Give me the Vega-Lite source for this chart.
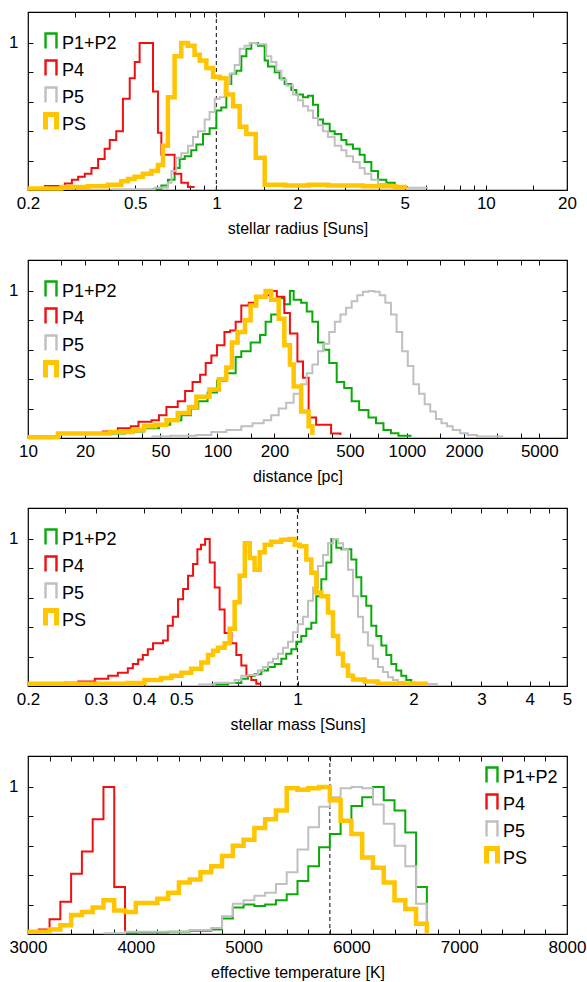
{
"$schema": "https://vega.github.io/schema/vega-lite/v6.json",
"padding": {"left": 7, "top": 10, "right": 0, "bottom": 0},
"spacing": 21,
"config": {
  "view": {"stroke": "#000", "strokeWidth": 1.2},
  "axis": {"grid": false, "domain": false, "tickSize": -5, "tickColor": "#111", "tickWidth": 1, "labelFont": "Liberation Sans", "labelFontSize": 17, "labelColor": "#000", "labelPadding": 10, "labelFlush": false, "labelOverlap": false, "titleFont": "Liberation Sans", "titleFontSize": 16, "titleFontWeight": "normal", "titleColor": "#000", "titlePadding": 9},
  "legend": {"orient": "none", "symbolType": "M-0.73,1L-0.73,-1L0.73,-1L0.73,1", "symbolSize": 225, "labelFont": "Liberation Sans", "labelFontSize": 18, "labelColor": "#000", "rowPadding": -11.5, "gridAlign": "all", "padding": 0, "labelOffset": 2, "symbolFillColor": "transparent"}
},
"resolve": {"scale": {"color": "independent", "x": "independent", "y": "independent"}, "legend": {"color": "independent"}},
"datasets": {
"r": [
{"s":"P1+P2","x":0.574,"y":0.005},{"s":"P1+P2","x":0.625,"y":0.03},{"s":"P1+P2","x":0.661,"y":0.07},{"s":"P1+P2","x":0.7,"y":0.15},{"s":"P1+P2","x":0.731,"y":0.21},{"s":"P1+P2","x":0.763,"y":0.23},{"s":"P1+P2","x":0.807,"y":0.27},{"s":"P1+P2","x":0.843,"y":0.31},{"s":"P1+P2","x":0.892,"y":0.38},{"s":"P1+P2","x":0.944,"y":0.42},{"s":"P1+P2","x":1.0,"y":0.54},{"s":"P1+P2","x":1.043,"y":0.56},{"s":"P1+P2","x":1.089,"y":0.72},{"s":"P1+P2","x":1.136,"y":0.79},{"s":"P1+P2","x":1.186,"y":0.81},{"s":"P1+P2","x":1.238,"y":0.91},{"s":"P1+P2","x":1.292,"y":0.96},{"s":"P1+P2","x":1.348,"y":1.0},{"s":"P1+P2","x":1.427,"y":0.98},{"s":"P1+P2","x":1.511,"y":0.88},{"s":"P1+P2","x":1.554,"y":0.84},{"s":"P1+P2","x":1.646,"y":0.8},{"s":"P1+P2","x":1.717,"y":0.76},{"s":"P1+P2","x":1.792,"y":0.72},{"s":"P1+P2","x":1.897,"y":0.68},{"s":"P1+P2","x":1.98,"y":0.65},{"s":"P1+P2","x":2.096,"y":0.63},{"s":"P1+P2","x":2.188,"y":0.64},{"s":"P1+P2","x":2.283,"y":0.58},{"s":"P1+P2","x":2.383,"y":0.48},{"s":"P1+P2","x":2.487,"y":0.45},{"s":"P1+P2","x":2.633,"y":0.4},{"s":"P1+P2","x":2.748,"y":0.38},{"s":"P1+P2","x":2.909,"y":0.34},{"s":"P1+P2","x":3.036,"y":0.31},{"s":"P1+P2","x":3.213,"y":0.28},{"s":"P1+P2","x":3.402,"y":0.24},{"s":"P1+P2","x":3.55,"y":0.19},{"s":"P1+P2","x":3.758,"y":0.13},{"s":"P1+P2","x":3.979,"y":0.07},{"s":"P1+P2","x":4.272,"y":0.05},{"s":"P1+P2","x":4.588,"y":0.02},{"s":"P1+P2","x":5.14,"y":0.02},
{"s":"P4","x":0.229,"y":0.027},{"s":"P4","x":0.274,"y":0.045},{"s":"P4","x":0.291,"y":0.07},{"s":"P4","x":0.307,"y":0.09},{"s":"P4","x":0.325,"y":0.11},{"s":"P4","x":0.344,"y":0.15},{"s":"P4","x":0.364,"y":0.21},{"s":"P4","x":0.385,"y":0.28},{"s":"P4","x":0.402,"y":0.34},{"s":"P4","x":0.425,"y":0.4},{"s":"P4","x":0.45,"y":0.62},{"s":"P4","x":0.477,"y":0.76},{"s":"P4","x":0.498,"y":0.87},{"s":"P4","x":0.519,"y":1.0},{"s":"P4","x":0.582,"y":0.67},{"s":"P4","x":0.607,"y":0.39},{"s":"P4","x":0.625,"y":0.24},{"s":"P4","x":0.7,"y":0.11},{"s":"P4","x":0.741,"y":0.05},{"s":"P4","x":0.784,"y":0.02},{"s":"P4","x":0.83,"y":0.02},
{"s":"P5","x":0.408,"y":0.005},{"s":"P5","x":0.59,"y":0.015},{"s":"P5","x":0.661,"y":0.05},{"s":"P5","x":0.681,"y":0.13},{"s":"P5","x":0.71,"y":0.22},{"s":"P5","x":0.741,"y":0.25},{"s":"P5","x":0.785,"y":0.3},{"s":"P5","x":0.819,"y":0.36},{"s":"P5","x":0.855,"y":0.4},{"s":"P5","x":0.905,"y":0.48},{"s":"P5","x":0.944,"y":0.53},{"s":"P5","x":0.986,"y":0.62},{"s":"P5","x":1.029,"y":0.63},{"s":"P5","x":1.073,"y":0.72},{"s":"P5","x":1.12,"y":0.79},{"s":"P5","x":1.169,"y":0.85},{"s":"P5","x":1.22,"y":0.96},{"s":"P5","x":1.273,"y":0.98},{"s":"P5","x":1.329,"y":1.0},{"s":"P5","x":1.407,"y":0.99},{"s":"P5","x":1.468,"y":0.99},{"s":"P5","x":1.532,"y":0.91},{"s":"P5","x":1.599,"y":0.87},{"s":"P5","x":1.669,"y":0.81},{"s":"P5","x":1.742,"y":0.75},{"s":"P5","x":1.818,"y":0.71},{"s":"P5","x":1.925,"y":0.65},{"s":"P5","x":2.009,"y":0.61},{"s":"P5","x":2.096,"y":0.57},{"s":"P5","x":2.188,"y":0.54},{"s":"P5","x":2.283,"y":0.49},{"s":"P5","x":2.383,"y":0.44},{"s":"P5","x":2.487,"y":0.4},{"s":"P5","x":2.595,"y":0.36},{"s":"P5","x":2.748,"y":0.3},{"s":"P5","x":2.909,"y":0.27},{"s":"P5","x":3.036,"y":0.23},{"s":"P5","x":3.213,"y":0.19},{"s":"P5","x":3.402,"y":0.15},{"s":"P5","x":3.55,"y":0.11},{"s":"P5","x":3.758,"y":0.07},{"s":"P5","x":3.979,"y":0.04},{"s":"P5","x":4.272,"y":0.03},{"s":"P5","x":4.588,"y":0.015},{"s":"P5","x":6.1,"y":0.015},
{"s":"PS","x":0.2,"y":0.01},{"s":"PS","x":0.266,"y":0.02},{"s":"PS","x":0.334,"y":0.025},{"s":"PS","x":0.396,"y":0.035},{"s":"PS","x":0.444,"y":0.06},{"s":"PS","x":0.47,"y":0.075},{"s":"PS","x":0.497,"y":0.09},{"s":"PS","x":0.534,"y":0.11},{"s":"PS","x":0.574,"y":0.13},{"s":"PS","x":0.607,"y":0.17},{"s":"PS","x":0.634,"y":0.3},{"s":"PS","x":0.661,"y":0.63},{"s":"PS","x":0.7,"y":0.91},{"s":"PS","x":0.741,"y":1.0},{"s":"PS","x":0.784,"y":0.98},{"s":"PS","x":0.83,"y":0.92},{"s":"PS","x":0.867,"y":0.88},{"s":"PS","x":0.918,"y":0.83},{"s":"PS","x":0.972,"y":0.77},{"s":"PS","x":1.029,"y":0.76},{"s":"PS","x":1.089,"y":0.65},{"s":"PS","x":1.153,"y":0.57},{"s":"PS","x":1.22,"y":0.43},{"s":"PS","x":1.292,"y":0.38},{"s":"PS","x":1.4,"y":0.22},{"s":"PS","x":1.511,"y":0.035},{"s":"PS","x":1.8,"y":0.03},{"s":"PS","x":2.2,"y":0.035},{"s":"PS","x":2.6,"y":0.03},{"s":"PS","x":3.0,"y":0.03},{"s":"PS","x":3.5,"y":0.025},{"s":"PS","x":4.0,"y":0.025},{"s":"PS","x":4.6,"y":0.02},{"s":"PS","x":5.1,"y":0.02}
],
"d": [
{"s":"P1+P2","x":10,"y":0.005},{"s":"P1+P2","x":14.4,"y":0.03},{"s":"P1+P2","x":32.6,"y":0.045},{"s":"P1+P2","x":40.9,"y":0.066},{"s":"P1+P2","x":49.1,"y":0.09},{"s":"P1+P2","x":56.3,"y":0.12},{"s":"P1+P2","x":64.5,"y":0.155},{"s":"P1+P2","x":72.3,"y":0.2},{"s":"P1+P2","x":79.2,"y":0.25},{"s":"P1+P2","x":88.7,"y":0.31},{"s":"P1+P2","x":99.4,"y":0.39},{"s":"P1+P2","x":111.4,"y":0.44},{"s":"P1+P2","x":124.8,"y":0.55},{"s":"P1+P2","x":133.6,"y":0.59},{"s":"P1+P2","x":149.7,"y":0.65},{"s":"P1+P2","x":167.7,"y":0.7},{"s":"P1+P2","x":179.6,"y":0.79},{"s":"P1+P2","x":192.2,"y":0.84},{"s":"P1+P2","x":210.5,"y":0.95},{"s":"P1+P2","x":225.4,"y":0.91},{"s":"P1+P2","x":241.3,"y":1.0},{"s":"P1+P2","x":252.5,"y":0.94},{"s":"P1+P2","x":276.6,"y":0.92},{"s":"P1+P2","x":296.1,"y":0.86},{"s":"P1+P2","x":317,"y":0.79},{"s":"P1+P2","x":339.5,"y":0.65},{"s":"P1+P2","x":363.4,"y":0.6},{"s":"P1+P2","x":389,"y":0.51},{"s":"P1+P2","x":426.1,"y":0.38},{"s":"P1+P2","x":466.7,"y":0.34},{"s":"P1+P2","x":511,"y":0.25},{"s":"P1+P2","x":559.8,"y":0.19},{"s":"P1+P2","x":627,"y":0.14},{"s":"P1+P2","x":686.9,"y":0.1},{"s":"P1+P2","x":752.2,"y":0.055},{"s":"P1+P2","x":823.9,"y":0.033},{"s":"P1+P2","x":902.4,"y":0.015},{"s":"P1+P2","x":1058,"y":0.015},
{"s":"P4","x":10,"y":0.005},{"s":"P4","x":14.4,"y":0.033},{"s":"P4","x":24.8,"y":0.045},{"s":"P4","x":29.8,"y":0.066},{"s":"P4","x":34.9,"y":0.08},{"s":"P4","x":38.3,"y":0.11},{"s":"P4","x":44.9,"y":0.12},{"s":"P4","x":49.1,"y":0.155},{"s":"P4","x":53.8,"y":0.21},{"s":"P4","x":61.7,"y":0.25},{"s":"P4","x":67.5,"y":0.32},{"s":"P4","x":73.9,"y":0.38},{"s":"P4","x":81,"y":0.43},{"s":"P4","x":86.7,"y":0.51},{"s":"P4","x":92.9,"y":0.56},{"s":"P4","x":99.4,"y":0.63},{"s":"P4","x":108.9,"y":0.72},{"s":"P4","x":116.6,"y":0.73},{"s":"P4","x":124.8,"y":0.79},{"s":"P4","x":133.6,"y":0.9},{"s":"P4","x":146.3,"y":0.92},{"s":"P4","x":160.2,"y":0.96},{"s":"P4","x":175.4,"y":0.97},{"s":"P4","x":192.2,"y":1.0},{"s":"P4","x":205.8,"y":0.96},{"s":"P4","x":225.4,"y":0.85},{"s":"P4","x":241.3,"y":0.71},{"s":"P4","x":264.3,"y":0.52},{"s":"P4","x":282.9,"y":0.41},{"s":"P4","x":302.9,"y":0.14},{"s":"P4","x":331.7,"y":0.09},{"s":"P4","x":398,"y":0.03},{"s":"P4","x":445.9,"y":0.02},
{"s":"P5","x":44.9,"y":0.01},{"s":"P5","x":56.3,"y":0.015},{"s":"P5","x":77.4,"y":0.02},{"s":"P5","x":92.9,"y":0.04},{"s":"P5","x":111.4,"y":0.055},{"s":"P5","x":133.6,"y":0.08},{"s":"P5","x":153.1,"y":0.1},{"s":"P5","x":175.5,"y":0.12},{"s":"P5","x":192.2,"y":0.155},{"s":"P5","x":210.5,"y":0.2},{"s":"P5","x":230.6,"y":0.24},{"s":"P5","x":252.5,"y":0.3},{"s":"P5","x":276.6,"y":0.365},{"s":"P5","x":296.1,"y":0.44},{"s":"P5","x":317,"y":0.5},{"s":"P5","x":339.5,"y":0.59},{"s":"P5","x":363.4,"y":0.64},{"s":"P5","x":389,"y":0.72},{"s":"P5","x":416.5,"y":0.79},{"s":"P5","x":445.9,"y":0.84},{"s":"P5","x":477.4,"y":0.885},{"s":"P5","x":511,"y":0.93},{"s":"P5","x":547.1,"y":0.97},{"s":"P5","x":585.7,"y":0.995},{"s":"P5","x":627,"y":1.0},{"s":"P5","x":671.4,"y":0.995},{"s":"P5","x":718.7,"y":0.97},{"s":"P5","x":769.5,"y":0.92},{"s":"P5","x":823.9,"y":0.84},{"s":"P5","x":882,"y":0.72},{"s":"P5","x":944.3,"y":0.59},{"s":"P5","x":1011,"y":0.49},{"s":"P5","x":1082,"y":0.365},{"s":"P5","x":1159,"y":0.3},{"s":"P5","x":1241,"y":0.23},{"s":"P5","x":1328,"y":0.18},{"s":"P5","x":1422,"y":0.13},{"s":"P5","x":1522,"y":0.1},{"s":"P5","x":1630,"y":0.08},{"s":"P5","x":1745,"y":0.055},{"s":"P5","x":1911,"y":0.033},{"s":"P5","x":2094,"y":0.02},{"s":"P5","x":2345,"y":0.01},{"s":"P5","x":3225,"y":0.01},
{"s":"PS","x":10,"y":0.005},{"s":"PS","x":14.4,"y":0.03},{"s":"PS","x":20.7,"y":0.03},{"s":"PS","x":27.2,"y":0.04},{"s":"PS","x":35.7,"y":0.055},{"s":"PS","x":40.9,"y":0.08},{"s":"PS","x":46.9,"y":0.09},{"s":"PS","x":53.8,"y":0.12},{"s":"PS","x":61.7,"y":0.17},{"s":"PS","x":70.7,"y":0.21},{"s":"PS","x":77.4,"y":0.28},{"s":"PS","x":90.8,"y":0.33},{"s":"PS","x":101.7,"y":0.4},{"s":"PS","x":111.4,"y":0.48},{"s":"PS","x":119.2,"y":0.65},{"s":"PS","x":127.7,"y":0.72},{"s":"PS","x":139.8,"y":0.8},{"s":"PS","x":149.7,"y":0.9},{"s":"PS","x":160.2,"y":0.96},{"s":"PS","x":179.6,"y":1.0},{"s":"PS","x":192.2,"y":0.94},{"s":"PS","x":210.5,"y":0.81},{"s":"PS","x":225.4,"y":0.63},{"s":"PS","x":241.3,"y":0.5},{"s":"PS","x":252.5,"y":0.35},{"s":"PS","x":276.6,"y":0.18},{"s":"PS","x":302.9,"y":0.08},{"s":"PS","x":317,"y":0.02}
],
"m": [
{"s":"P1+P2","x":0.598,"y":0.01},{"s":"P1+P2","x":0.66,"y":0.02},{"s":"P1+P2","x":0.715,"y":0.05},{"s":"P1+P2","x":0.744,"y":0.07},{"s":"P1+P2","x":0.774,"y":0.08},{"s":"P1+P2","x":0.806,"y":0.105},{"s":"P1+P2","x":0.839,"y":0.13},{"s":"P1+P2","x":0.873,"y":0.15},{"s":"P1+P2","x":0.908,"y":0.185},{"s":"P1+P2","x":0.935,"y":0.22},{"s":"P1+P2","x":0.964,"y":0.25},{"s":"P1+P2","x":0.993,"y":0.3},{"s":"P1+P2","x":1.023,"y":0.34},{"s":"P1+P2","x":1.054,"y":0.39},{"s":"P1+P2","x":1.086,"y":0.43},{"s":"P1+P2","x":1.119,"y":0.61},{"s":"P1+P2","x":1.153,"y":0.725},{"s":"P1+P2","x":1.188,"y":0.84},{"s":"P1+P2","x":1.224,"y":1.0},{"s":"P1+P2","x":1.261,"y":0.94},{"s":"P1+P2","x":1.299,"y":0.93},{"s":"P1+P2","x":1.339,"y":0.93},{"s":"P1+P2","x":1.379,"y":0.86},{"s":"P1+P2","x":1.421,"y":0.74},{"s":"P1+P2","x":1.464,"y":0.61},{"s":"P1+P2","x":1.508,"y":0.545},{"s":"P1+P2","x":1.554,"y":0.41},{"s":"P1+P2","x":1.601,"y":0.34},{"s":"P1+P2","x":1.65,"y":0.275},{"s":"P1+P2","x":1.7,"y":0.21},{"s":"P1+P2","x":1.751,"y":0.15},{"s":"P1+P2","x":1.804,"y":0.105},{"s":"P1+P2","x":1.859,"y":0.07},{"s":"P1+P2","x":1.915,"y":0.04},{"s":"P1+P2","x":1.973,"y":0.02},{"s":"P1+P2","x":2.033,"y":0.02},
{"s":"P4","x":0.225,"y":0.013},{"s":"P4","x":0.249,"y":0.022},{"s":"P4","x":0.27,"y":0.03},{"s":"P4","x":0.298,"y":0.05},{"s":"P4","x":0.323,"y":0.07},{"s":"P4","x":0.342,"y":0.09},{"s":"P4","x":0.363,"y":0.12},{"s":"P4","x":0.374,"y":0.15},{"s":"P4","x":0.386,"y":0.18},{"s":"P4","x":0.397,"y":0.21},{"s":"P4","x":0.409,"y":0.25},{"s":"P4","x":0.422,"y":0.29},{"s":"P4","x":0.448,"y":0.31},{"s":"P4","x":0.461,"y":0.41},{"s":"P4","x":0.475,"y":0.47},{"s":"P4","x":0.49,"y":0.59},{"s":"P4","x":0.505,"y":0.66},{"s":"P4","x":0.52,"y":0.75},{"s":"P4","x":0.536,"y":0.83},{"s":"P4","x":0.55,"y":0.93},{"s":"P4","x":0.562,"y":0.96},{"s":"P4","x":0.576,"y":1.0},{"s":"P4","x":0.592,"y":0.84},{"s":"P4","x":0.61,"y":0.67},{"s":"P4","x":0.628,"y":0.52},{"s":"P4","x":0.647,"y":0.36},{"s":"P4","x":0.674,"y":0.29},{"s":"P4","x":0.694,"y":0.21},{"s":"P4","x":0.715,"y":0.14},{"s":"P4","x":0.737,"y":0.07},{"s":"P4","x":0.759,"y":0.04},{"s":"P4","x":0.782,"y":0.016},{"s":"P4","x":0.806,"y":0.016},
{"s":"P5","x":0.552,"y":0.01},{"s":"P5","x":0.61,"y":0.022},{"s":"P5","x":0.687,"y":0.04},{"s":"P5","x":0.715,"y":0.07},{"s":"P5","x":0.744,"y":0.075},{"s":"P5","x":0.79,"y":0.105},{"s":"P5","x":0.814,"y":0.13},{"s":"P5","x":0.839,"y":0.16},{"s":"P5","x":0.864,"y":0.185},{"s":"P5","x":0.89,"y":0.22},{"s":"P5","x":0.917,"y":0.26},{"s":"P5","x":0.945,"y":0.3},{"s":"P5","x":0.973,"y":0.365},{"s":"P5","x":1.003,"y":0.42},{"s":"P5","x":1.033,"y":0.47},{"s":"P5","x":1.065,"y":0.58},{"s":"P5","x":1.097,"y":0.67},{"s":"P5","x":1.13,"y":0.815},{"s":"P5","x":1.165,"y":0.89},{"s":"P5","x":1.2,"y":0.97},{"s":"P5","x":1.236,"y":1.0},{"s":"P5","x":1.274,"y":0.97},{"s":"P5","x":1.312,"y":0.93},{"s":"P5","x":1.352,"y":0.79},{"s":"P5","x":1.393,"y":0.61},{"s":"P5","x":1.435,"y":0.47},{"s":"P5","x":1.479,"y":0.365},{"s":"P5","x":1.523,"y":0.275},{"s":"P5","x":1.569,"y":0.185},{"s":"P5","x":1.617,"y":0.13},{"s":"P5","x":1.666,"y":0.095},{"s":"P5","x":1.717,"y":0.06},{"s":"P5","x":1.769,"y":0.04},{"s":"P5","x":1.822,"y":0.027},{"s":"P5","x":1.896,"y":0.013},{"s":"P5","x":2.31,"y":0.013},
{"s":"PS","x":0.2,"y":0.016},{"s":"PS","x":0.363,"y":0.02},{"s":"PS","x":0.401,"y":0.04},{"s":"PS","x":0.443,"y":0.054},{"s":"PS","x":0.471,"y":0.07},{"s":"PS","x":0.5,"y":0.09},{"s":"PS","x":0.53,"y":0.117},{"s":"PS","x":0.563,"y":0.16},{"s":"PS","x":0.586,"y":0.21},{"s":"PS","x":0.604,"y":0.24},{"s":"PS","x":0.622,"y":0.26},{"s":"PS","x":0.647,"y":0.29},{"s":"PS","x":0.667,"y":0.39},{"s":"PS","x":0.687,"y":0.57},{"s":"PS","x":0.708,"y":0.75},{"s":"PS","x":0.73,"y":0.97},{"s":"PS","x":0.752,"y":0.87},{"s":"PS","x":0.774,"y":0.79},{"s":"PS","x":0.798,"y":0.91},{"s":"PS","x":0.822,"y":0.96},{"s":"PS","x":0.855,"y":0.98},{"s":"PS","x":0.908,"y":0.995},{"s":"PS","x":0.954,"y":1.0},{"s":"PS","x":0.983,"y":0.96},{"s":"PS","x":1.013,"y":0.95},{"s":"PS","x":1.054,"y":0.86},{"s":"PS","x":1.086,"y":0.77},{"s":"PS","x":1.119,"y":0.635},{"s":"PS","x":1.153,"y":0.61},{"s":"PS","x":1.2,"y":0.5},{"s":"PS","x":1.236,"y":0.34},{"s":"PS","x":1.274,"y":0.22},{"s":"PS","x":1.312,"y":0.14},{"s":"PS","x":1.352,"y":0.07},{"s":"PS","x":1.393,"y":0.045},{"s":"PS","x":1.493,"y":0.03},{"s":"PS","x":1.617,"y":0.016},{"s":"PS","x":2.18,"y":0.016}
],
"t": [
{"s":"P1+P2","x":3900,"y":0.005},{"s":"P1+P2","x":4000,"y":0.01},{"s":"P1+P2","x":4300,"y":0.016},{"s":"P1+P2","x":4500,"y":0.022},{"s":"P1+P2","x":4700,"y":0.03},{"s":"P1+P2","x":4800,"y":0.105},{"s":"P1+P2","x":4900,"y":0.18},{"s":"P1+P2","x":5000,"y":0.2},{"s":"P1+P2","x":5100,"y":0.19},{"s":"P1+P2","x":5200,"y":0.2},{"s":"P1+P2","x":5300,"y":0.23},{"s":"P1+P2","x":5400,"y":0.27},{"s":"P1+P2","x":5500,"y":0.36},{"s":"P1+P2","x":5600,"y":0.46},{"s":"P1+P2","x":5700,"y":0.59},{"s":"P1+P2","x":5800,"y":0.68},{"s":"P1+P2","x":5900,"y":0.77},{"s":"P1+P2","x":6000,"y":0.87},{"s":"P1+P2","x":6100,"y":0.93},{"s":"P1+P2","x":6200,"y":1.0},{"s":"P1+P2","x":6300,"y":0.91},{"s":"P1+P2","x":6400,"y":0.84},{"s":"P1+P2","x":6500,"y":0.69},{"s":"P1+P2","x":6600,"y":0.32},{"s":"P1+P2","x":6700,"y":0},
{"s":"P4","x":3000,"y":0.01},{"s":"P4","x":3100,"y":0.03},{"s":"P4","x":3200,"y":0.1},{"s":"P4","x":3300,"y":0.22},{"s":"P4","x":3400,"y":0.41},{"s":"P4","x":3500,"y":0.56},{"s":"P4","x":3600,"y":0.78},{"s":"P4","x":3700,"y":1.0},{"s":"P4","x":3800,"y":0.32},{"s":"P4","x":3900,"y":0},
{"s":"P5","x":3700,"y":0.005},{"s":"P5","x":3900,"y":0.016},{"s":"P5","x":4500,"y":0.027},{"s":"P5","x":4700,"y":0.04},{"s":"P5","x":4800,"y":0.12},{"s":"P5","x":4900,"y":0.205},{"s":"P5","x":5000,"y":0.23},{"s":"P5","x":5100,"y":0.26},{"s":"P5","x":5200,"y":0.28},{"s":"P5","x":5300,"y":0.34},{"s":"P5","x":5400,"y":0.42},{"s":"P5","x":5500,"y":0.575},{"s":"P5","x":5600,"y":0.725},{"s":"P5","x":5700,"y":0.865},{"s":"P5","x":5800,"y":0.93},{"s":"P5","x":5900,"y":0.99},{"s":"P5","x":6000,"y":1.0},{"s":"P5","x":6100,"y":0.99},{"s":"P5","x":6200,"y":0.88},{"s":"P5","x":6300,"y":0.75},{"s":"P5","x":6400,"y":0.6},{"s":"P5","x":6500,"y":0.46},{"s":"P5","x":6600,"y":0.205},{"s":"P5","x":6700,"y":0},
{"s":"PS","x":3000,"y":0.016},{"s":"PS","x":3100,"y":0.016},{"s":"PS","x":3200,"y":0.03},{"s":"PS","x":3300,"y":0.06},{"s":"PS","x":3400,"y":0.13},{"s":"PS","x":3500,"y":0.15},{"s":"PS","x":3600,"y":0.18},{"s":"PS","x":3700,"y":0.23},{"s":"PS","x":3800,"y":0.16},{"s":"PS","x":3900,"y":0.15},{"s":"PS","x":4000,"y":0.21},{"s":"PS","x":4100,"y":0.21},{"s":"PS","x":4200,"y":0.24},{"s":"PS","x":4300,"y":0.28},{"s":"PS","x":4400,"y":0.35},{"s":"PS","x":4500,"y":0.37},{"s":"PS","x":4600,"y":0.42},{"s":"PS","x":4700,"y":0.46},{"s":"PS","x":4800,"y":0.53},{"s":"PS","x":4900,"y":0.6},{"s":"PS","x":5000,"y":0.64},{"s":"PS","x":5100,"y":0.72},{"s":"PS","x":5200,"y":0.78},{"s":"PS","x":5300,"y":0.84},{"s":"PS","x":5400,"y":0.99},{"s":"PS","x":5500,"y":0.98},{"s":"PS","x":5600,"y":0.99},{"s":"PS","x":5700,"y":1.0},{"s":"PS","x":5800,"y":0.91},{"s":"PS","x":5900,"y":0.77},{"s":"PS","x":6000,"y":0.68},{"s":"PS","x":6100,"y":0.52},{"s":"PS","x":6200,"y":0.45},{"s":"PS","x":6300,"y":0.35},{"s":"PS","x":6400,"y":0.23},{"s":"PS","x":6500,"y":0.17},{"s":"PS","x":6600,"y":0.07},{"s":"PS","x":6700,"y":0}
]
},
"vconcat": [
{
 "width": 539, "height": 178,
 "data": {"name": "r"},
 "resolve": {"axis": {"x": "independent", "y": "independent"}},
 "layer": [
  {"data": {"values": [{"x": 1}]}, "mark": {"type": "rule", "color": "#333", "strokeDash": [4, 3], "strokeWidth": 1.2},
   "encoding": {"x": {"field": "x", "type": "quantitative", "scale": {"type": "log", "domain": [0.2, 20], "nice": false}, "axis": null}}},
  {"transform": [{"filter": "datum.s == 'P1+P2'"}], "mark": {"type": "line", "interpolate": "step-after", "strokeWidth": 2},
   "encoding": {
    "x": {"field": "x", "type": "quantitative", "scale": {"type": "log", "domain": [0.2, 20], "nice": false}, "axis": {"orient": "bottom", "values": [0.2,0.3,0.4,0.5,0.6,0.7,0.8,0.9,1,1.5,2,3,4,5,6,7,8,9,10,15,20], "labelExpr": "indexof([0.2,0.5,1,2,5,10,20], datum.value) >= 0 ? datum.value + '' : ''", "title": "stellar radius [Suns]"}},
    "y": {"field": "y", "type": "quantitative", "scale": {"domain": [0, 1.21], "nice": false, "zero": false}, "axis": {"orient": "left", "values": [0,0.2,0.4,0.6,0.8,1], "labelExpr": "datum.value == 1 ? '1' : ''", "labelPadding": 15, "title": null}},
    "color": {"field": "s", "type": "nominal", "scale": {"domain": ["P1+P2","P4","P5","PS"], "range": ["#0aaa0a","#f01010","#c0c0c0","#ffc500"]}, "legend": {"title": null, "legendX": 14, "legendY": 20, "encode": {"symbols": {"update": {"strokeWidth": {"signal": "datum.value == 'PS' ? 5 : 2.4"}, "fill": {"value": "transparent"}}}, "labels": {"update": {"dy": {"value": 3}}}}}}}},
  {"transform": [{"filter": "datum.s == 'P4'"}], "mark": {"type": "line", "interpolate": "step-after", "strokeWidth": 2},
   "encoding": {
    "x": {"field": "x", "type": "quantitative", "scale": {"type": "log", "domain": [0.2, 20], "nice": false}, "axis": {"orient": "top", "values": [0.2,0.3,0.4,0.5,0.6,0.7,0.8,0.9,1,1.5,2,3,4,5,6,7,8,9,10,15,20], "labels": false, "title": null}},
    "y": {"field": "y", "type": "quantitative", "scale": {"domain": [0, 1.21], "nice": false, "zero": false}, "axis": {"orient": "right", "values": [0,0.2,0.4,0.6,0.8,1], "labels": false, "title": null}},
    "color": {"field": "s", "type": "nominal", "scale": {"domain": ["P1+P2","P4","P5","PS"], "range": ["#0aaa0a","#f01010","#c0c0c0","#ffc500"]}}}},
  {"transform": [{"filter": "datum.s == 'P5'"}], "mark": {"type": "line", "interpolate": "step-after", "strokeWidth": 2},
   "encoding": {
    "x": {"field": "x", "type": "quantitative", "scale": {"type": "log", "domain": [0.2, 20], "nice": false}, "axis": null},
    "y": {"field": "y", "type": "quantitative", "scale": {"domain": [0, 1.21], "nice": false, "zero": false}, "axis": null},
    "color": {"field": "s", "type": "nominal", "scale": {"domain": ["P1+P2","P4","P5","PS"], "range": ["#0aaa0a","#f01010","#c0c0c0","#ffc500"]}}}},
  {"transform": [{"filter": "datum.s == 'PS'"}], "mark": {"type": "line", "interpolate": "step-after", "strokeWidth": 4.5},
   "encoding": {
    "x": {"field": "x", "type": "quantitative", "scale": {"type": "log", "domain": [0.2, 20], "nice": false}, "axis": null},
    "y": {"field": "y", "type": "quantitative", "scale": {"domain": [0, 1.21], "nice": false, "zero": false}, "axis": null},
    "color": {"field": "s", "type": "nominal", "scale": {"domain": ["P1+P2","P4","P5","PS"], "range": ["#0aaa0a","#f01010","#c0c0c0","#ffc500"]}}}}
 ]
},
{
 "width": 539, "height": 178,
 "data": {"name": "d"},
 "resolve": {"axis": {"x": "independent", "y": "independent"}},
 "layer": [
  {"transform": [{"filter": "datum.s == 'P1+P2'"}], "mark": {"type": "line", "interpolate": "step-after", "strokeWidth": 2},
   "encoding": {
    "x": {"field": "x", "type": "quantitative", "scale": {"type": "log", "domain": [10, 7000], "nice": false}, "axis": {"orient": "bottom", "values": [10,15,20,30,40,50,70,100,150,200,300,400,500,700,1000,1500,2000,3000,4000,5000], "labelExpr": "indexof([10,20,50,100,200,500,1000,2000,5000], datum.value) >= 0 ? datum.value + '' : ''", "title": "distance [pc]"}},
    "y": {"field": "y", "type": "quantitative", "scale": {"domain": [0, 1.21], "nice": false, "zero": false}, "axis": {"orient": "left", "values": [0,0.2,0.4,0.6,0.8,1], "labelExpr": "datum.value == 1 ? '1' : ''", "labelPadding": 15, "title": null}},
    "color": {"field": "s", "type": "nominal", "scale": {"domain": ["P1+P2","P4","P5","PS"], "range": ["#0aaa0a","#f01010","#c0c0c0","#ffc500"]}, "legend": {"title": null, "legendX": 14, "legendY": 20, "encode": {"symbols": {"update": {"strokeWidth": {"signal": "datum.value == 'PS' ? 5 : 2.4"}, "fill": {"value": "transparent"}}}, "labels": {"update": {"dy": {"value": 3}}}}}}}},
  {"transform": [{"filter": "datum.s == 'P4'"}], "mark": {"type": "line", "interpolate": "step-after", "strokeWidth": 2},
   "encoding": {
    "x": {"field": "x", "type": "quantitative", "scale": {"type": "log", "domain": [10, 7000], "nice": false}, "axis": {"orient": "top", "values": [10,15,20,30,40,50,70,100,150,200,300,400,500,700,1000,1500,2000,3000,4000,5000], "labels": false, "title": null}},
    "y": {"field": "y", "type": "quantitative", "scale": {"domain": [0, 1.21], "nice": false, "zero": false}, "axis": {"orient": "right", "values": [0,0.2,0.4,0.6,0.8,1], "labels": false, "title": null}},
    "color": {"field": "s", "type": "nominal", "scale": {"domain": ["P1+P2","P4","P5","PS"], "range": ["#0aaa0a","#f01010","#c0c0c0","#ffc500"]}}}},
  {"transform": [{"filter": "datum.s == 'P5'"}], "mark": {"type": "line", "interpolate": "step-after", "strokeWidth": 2},
   "encoding": {
    "x": {"field": "x", "type": "quantitative", "scale": {"type": "log", "domain": [10, 7000], "nice": false}, "axis": null},
    "y": {"field": "y", "type": "quantitative", "scale": {"domain": [0, 1.21], "nice": false, "zero": false}, "axis": null},
    "color": {"field": "s", "type": "nominal", "scale": {"domain": ["P1+P2","P4","P5","PS"], "range": ["#0aaa0a","#f01010","#c0c0c0","#ffc500"]}}}},
  {"transform": [{"filter": "datum.s == 'PS'"}], "mark": {"type": "line", "interpolate": "step-after", "strokeWidth": 4.5},
   "encoding": {
    "x": {"field": "x", "type": "quantitative", "scale": {"type": "log", "domain": [10, 7000], "nice": false}, "axis": null},
    "y": {"field": "y", "type": "quantitative", "scale": {"domain": [0, 1.21], "nice": false, "zero": false}, "axis": null},
    "color": {"field": "s", "type": "nominal", "scale": {"domain": ["P1+P2","P4","P5","PS"], "range": ["#0aaa0a","#f01010","#c0c0c0","#ffc500"]}}}}
 ]
},
{
 "width": 539, "height": 178,
 "data": {"name": "m"},
 "resolve": {"axis": {"x": "independent", "y": "independent"}},
 "layer": [
  {"data": {"values": [{"x": 1}]}, "mark": {"type": "rule", "color": "#333", "strokeDash": [4, 3], "strokeWidth": 1.2},
   "encoding": {"x": {"field": "x", "type": "quantitative", "scale": {"type": "log", "domain": [0.2, 5], "nice": false}, "axis": null}}},
  {"transform": [{"filter": "datum.s == 'P1+P2'"}], "mark": {"type": "line", "interpolate": "step-after", "strokeWidth": 2},
   "encoding": {
    "x": {"field": "x", "type": "quantitative", "scale": {"type": "log", "domain": [0.2, 5], "nice": false}, "axis": {"orient": "bottom", "values": [0.2,0.25,0.3,0.4,0.5,0.6,0.7,0.8,0.9,1,1.5,2,2.5,3,3.5,4,4.5,5], "labelExpr": "indexof([0.2,0.3,0.4,0.5,1,2,3,4,5], datum.value) >= 0 ? datum.value + '' : ''", "title": "stellar mass [Suns]"}},
    "y": {"field": "y", "type": "quantitative", "scale": {"domain": [0, 1.21], "nice": false, "zero": false}, "axis": {"orient": "left", "values": [0,0.2,0.4,0.6,0.8,1], "labelExpr": "datum.value == 1 ? '1' : ''", "labelPadding": 15, "title": null}},
    "color": {"field": "s", "type": "nominal", "scale": {"domain": ["P1+P2","P4","P5","PS"], "range": ["#0aaa0a","#f01010","#c0c0c0","#ffc500"]}, "legend": {"title": null, "legendX": 14, "legendY": 20, "encode": {"symbols": {"update": {"strokeWidth": {"signal": "datum.value == 'PS' ? 5 : 2.4"}, "fill": {"value": "transparent"}}}, "labels": {"update": {"dy": {"value": 3}}}}}}}},
  {"transform": [{"filter": "datum.s == 'P4'"}], "mark": {"type": "line", "interpolate": "step-after", "strokeWidth": 2},
   "encoding": {
    "x": {"field": "x", "type": "quantitative", "scale": {"type": "log", "domain": [0.2, 5], "nice": false}, "axis": {"orient": "top", "values": [0.2,0.25,0.3,0.4,0.5,0.6,0.7,0.8,0.9,1,1.5,2,2.5,3,3.5,4,4.5,5], "labels": false, "title": null}},
    "y": {"field": "y", "type": "quantitative", "scale": {"domain": [0, 1.21], "nice": false, "zero": false}, "axis": {"orient": "right", "values": [0,0.2,0.4,0.6,0.8,1], "labels": false, "title": null}},
    "color": {"field": "s", "type": "nominal", "scale": {"domain": ["P1+P2","P4","P5","PS"], "range": ["#0aaa0a","#f01010","#c0c0c0","#ffc500"]}}}},
  {"transform": [{"filter": "datum.s == 'P5'"}], "mark": {"type": "line", "interpolate": "step-after", "strokeWidth": 2},
   "encoding": {
    "x": {"field": "x", "type": "quantitative", "scale": {"type": "log", "domain": [0.2, 5], "nice": false}, "axis": null},
    "y": {"field": "y", "type": "quantitative", "scale": {"domain": [0, 1.21], "nice": false, "zero": false}, "axis": null},
    "color": {"field": "s", "type": "nominal", "scale": {"domain": ["P1+P2","P4","P5","PS"], "range": ["#0aaa0a","#f01010","#c0c0c0","#ffc500"]}}}},
  {"transform": [{"filter": "datum.s == 'PS'"}], "mark": {"type": "line", "interpolate": "step-after", "strokeWidth": 4.5},
   "encoding": {
    "x": {"field": "x", "type": "quantitative", "scale": {"type": "log", "domain": [0.2, 5], "nice": false}, "axis": null},
    "y": {"field": "y", "type": "quantitative", "scale": {"domain": [0, 1.21], "nice": false, "zero": false}, "axis": null},
    "color": {"field": "s", "type": "nominal", "scale": {"domain": ["P1+P2","P4","P5","PS"], "range": ["#0aaa0a","#f01010","#c0c0c0","#ffc500"]}}}}
 ]
},
{
 "width": 539, "height": 178,
 "data": {"name": "t"},
 "resolve": {"axis": {"x": "independent", "y": "independent"}},
 "layer": [
  {"data": {"values": [{"x": 5800}]}, "mark": {"type": "rule", "color": "#333", "strokeDash": [4, 3], "strokeWidth": 1.2},
   "encoding": {"x": {"field": "x", "type": "quantitative", "scale": {"domain": [3000, 8000], "nice": false, "zero": false}, "axis": null}}},
  {"transform": [{"filter": "datum.s == 'P1+P2'"}], "mark": {"type": "line", "interpolate": "step-after", "strokeWidth": 2},
   "encoding": {
    "x": {"field": "x", "type": "quantitative", "scale": {"domain": [3000, 8000], "nice": false, "zero": false}, "axis": {"orient": "bottom", "values": [3000,3200,3400,3600,3800,4000,4200,4400,4600,4800,5000,5200,5400,5600,5800,6000,6200,6400,6600,6800,7000,7200,7400,7600,7800,8000], "labelExpr": "datum.value % 1000 == 0 ? datum.value + '' : ''", "title": "effective temperature [K]"}},
    "y": {"field": "y", "type": "quantitative", "scale": {"domain": [0, 1.21], "nice": false, "zero": false}, "axis": {"orient": "left", "values": [0,0.2,0.4,0.6,0.8,1], "labelExpr": "datum.value == 1 ? '1' : ''", "labelPadding": 15, "title": null}},
    "color": {"field": "s", "type": "nominal", "scale": {"domain": ["P1+P2","P4","P5","PS"], "range": ["#0aaa0a","#f01010","#c0c0c0","#ffc500"]}, "legend": {"title": null, "legendX": 455, "legendY": 10, "encode": {"symbols": {"update": {"strokeWidth": {"signal": "datum.value == 'PS' ? 5 : 2.4"}, "fill": {"value": "transparent"}}}, "labels": {"update": {"dy": {"value": 3}}}}}}}},
  {"transform": [{"filter": "datum.s == 'P4'"}], "mark": {"type": "line", "interpolate": "step-after", "strokeWidth": 2},
   "encoding": {
    "x": {"field": "x", "type": "quantitative", "scale": {"domain": [3000, 8000], "nice": false, "zero": false}, "axis": {"orient": "top", "values": [3000,3200,3400,3600,3800,4000,4200,4400,4600,4800,5000,5200,5400,5600,5800,6000,6200,6400,6600,6800,7000,7200,7400,7600,7800,8000], "labels": false, "title": null}},
    "y": {"field": "y", "type": "quantitative", "scale": {"domain": [0, 1.21], "nice": false, "zero": false}, "axis": {"orient": "right", "values": [0,0.2,0.4,0.6,0.8,1], "labels": false, "title": null}},
    "color": {"field": "s", "type": "nominal", "scale": {"domain": ["P1+P2","P4","P5","PS"], "range": ["#0aaa0a","#f01010","#c0c0c0","#ffc500"]}}}},
  {"transform": [{"filter": "datum.s == 'P5'"}], "mark": {"type": "line", "interpolate": "step-after", "strokeWidth": 2},
   "encoding": {
    "x": {"field": "x", "type": "quantitative", "scale": {"domain": [3000, 8000], "nice": false, "zero": false}, "axis": null},
    "y": {"field": "y", "type": "quantitative", "scale": {"domain": [0, 1.21], "nice": false, "zero": false}, "axis": null},
    "color": {"field": "s", "type": "nominal", "scale": {"domain": ["P1+P2","P4","P5","PS"], "range": ["#0aaa0a","#f01010","#c0c0c0","#ffc500"]}}}},
  {"transform": [{"filter": "datum.s == 'PS'"}], "mark": {"type": "line", "interpolate": "step-after", "strokeWidth": 4.5},
   "encoding": {
    "x": {"field": "x", "type": "quantitative", "scale": {"domain": [3000, 8000], "nice": false, "zero": false}, "axis": null},
    "y": {"field": "y", "type": "quantitative", "scale": {"domain": [0, 1.21], "nice": false, "zero": false}, "axis": null},
    "color": {"field": "s", "type": "nominal", "scale": {"domain": ["P1+P2","P4","P5","PS"], "range": ["#0aaa0a","#f01010","#c0c0c0","#ffc500"]}}}}
 ]
}
]
}
